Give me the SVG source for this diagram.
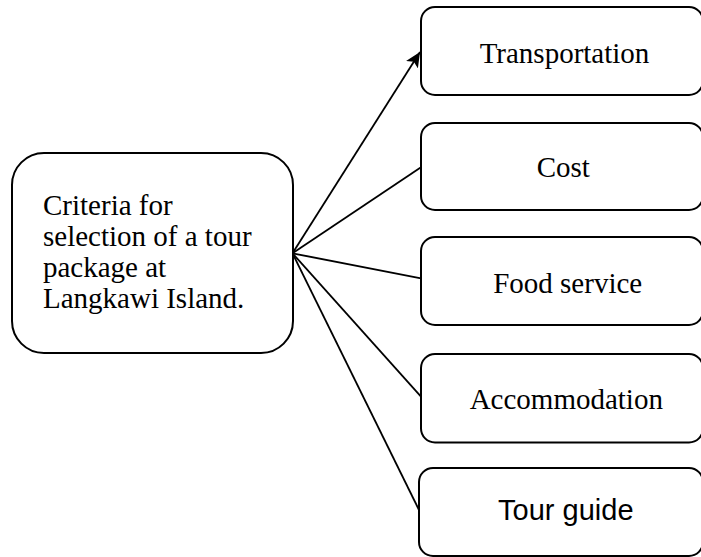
<svg xmlns="http://www.w3.org/2000/svg" width="701" height="557" viewBox="0 0 701 557">
  <defs>
    <marker id="arrow" markerUnits="userSpaceOnUse" markerWidth="16" markerHeight="14" refX="15" refY="7" orient="auto">
      <path d="M0,0 L15,7 L0,14 L3.5,7 Z" fill="#000"/>
    </marker>
    <style>
      .box { fill: #fff; stroke: #000; stroke-width: 2; }
      .edge { stroke: #000; stroke-width: 1.8; fill: none; }
      .serif { font-family: "Liberation Serif", "Times New Roman", serif; font-size: 29px; fill: #000; }
      .sans { font-family: "Liberation Sans", Arial, sans-serif; font-size: 29px; fill: #000; }
    </style>
  </defs>
  <rect width="701" height="557" fill="#fff"/>
  <g id="connectors">
    <line class="edge" x1="292.5" y1="253.3" x2="420" y2="52" marker-end="url(#arrow)"/>
    <line class="edge" x1="292.5" y1="253.3" x2="421" y2="167.3"/>
    <line class="edge" x1="292.5" y1="253.3" x2="421" y2="278.3"/>
    <line class="edge" x1="292.5" y1="253.3" x2="421" y2="396.7"/>
    <line class="edge" x1="292.5" y1="253.3" x2="419" y2="510"/>
  </g>
  <g id="criteria">
    <rect class="box" x="12" y="153" width="281" height="200" rx="32" ry="32"/>
    <text class="serif" x="43" y="215">Criteria for</text>
    <text class="serif" x="43" y="246">selection of a tour</text>
    <text class="serif" x="43" y="277">package at</text>
    <text class="serif" x="43" y="308">Langkawi Island.</text>
  </g>
  <g id="transportation">
    <rect class="box" x="421" y="7" width="282" height="88" rx="14" ry="14"/>
    <text class="serif" x="564.5" y="62.7" text-anchor="middle">Transportation</text>
  </g>
  <g id="cost">
    <rect class="box" x="421" y="123" width="282" height="87" rx="14" ry="14"/>
    <text class="serif" x="563.3" y="176.7" text-anchor="middle">Cost</text>
  </g>
  <g id="food-service">
    <rect class="box" x="421" y="237" width="282" height="88" rx="14" ry="14"/>
    <text class="serif" x="567.7" y="292.7" text-anchor="middle">Food service</text>
  </g>
  <g id="accommodation">
    <rect class="box" x="421" y="354" width="282" height="88.5" rx="14" ry="14"/>
    <text class="serif" x="566.3" y="409.3" text-anchor="middle">Accommodation</text>
  </g>
  <g id="tour-guide">
    <rect class="box" x="419" y="468" width="284" height="88" rx="14" ry="14"/>
    <text class="sans" x="565.8" y="520" text-anchor="middle">Tour guide</text>
  </g>
</svg>
